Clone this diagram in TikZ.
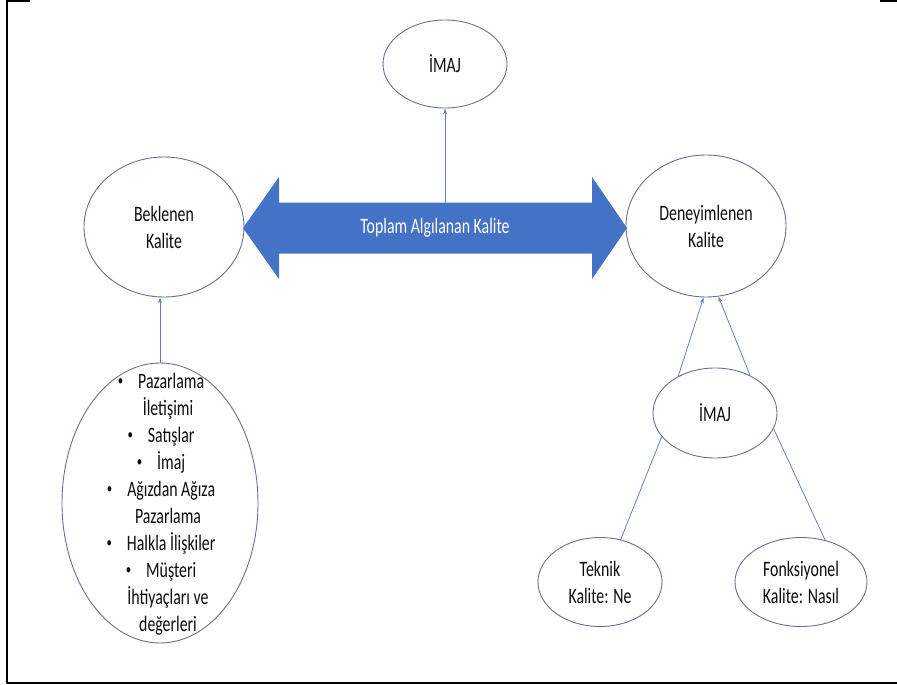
\documentclass[tikz,border=0pt]{standalone}
\usepackage{fontspec}
\setmainfont{Carlito}[FakeStretch=0.72]
\usetikzlibrary{shapes.geometric,arrows.meta}
\definecolor{rimblue}{RGB}{100,112,150}
\definecolor{linkblue}{RGB}{98,128,196}
\definecolor{arrowblue}{RGB}{68,114,196}
\definecolor{inkgray}{RGB}{12,12,12}
\newcommand{\madde}{\raisebox{2.5pt}{\fontsize{15}{27}\selectfont •}\hspace{15pt}}
\begin{document}
\begin{tikzpicture}[x=1pt,y=-1pt,line join=round,line cap=round,
	font=\fontsize{22}{27}\selectfont,>={Stealth[length=6pt,width=4pt]},
	bubble/.style={ellipse,draw=rimblue,line width=0.9pt,inner sep=0pt,align=center,text=inkgray},
	link/.style={draw=linkblue,line width=0.8pt}]
	\useasboundingbox (0,0) rectangle (897,685);
	% frame
	\draw[line width=2.5pt,line cap=butt] (7,1)--(30,1) (880,1)--(897,1) (7,0)--(7,683)--(897,683);
	% double arrow
	\path 
	(243,228) coordinate (L)
	(279,177) coordinate (L1)
	(279,202.5) coordinate (L2)
	(592,202.5) coordinate (R2)
	(592,177) coordinate (R1)
	(627,228) coordinate (R)
	(592,279) coordinate (R3)
	(592,253.5) coordinate (R4)
	(279,253.5) coordinate (L4)
	(279,279) coordinate (L3)
	(445,202.5) coordinate (shafttop)
	;
	\fill[arrowblue] (L)--(L1)--(L2)--(R2)--(R1)--(R)--(R3)--(R4)--(L4)--(L3)--cycle;
	\node[text=white] (toplam) at (435,228) {Toplam Algılanan Kalite};
	% ellipses
	\node[bubble,minimum width=124,minimum height=88] (imaj) at (445,64) {İMAJ};
	\node[bubble,minimum width=160,minimum height=140] (beklenen) at (164,227) {Beklenen\\Kalite};
	\node[bubble,minimum width=160,minimum height=142] (deney) at (706,226) {Deneyimlenen\\Kalite};
	\node[bubble,minimum width=196,minimum height=280] (liste) at (160,503) {};
	\node[align=center,text=inkgray,inner sep=0pt] (listetext) at (161,504) {%
		\madde Pazarlama\\ \hspace*{14pt}İletişimi\\ \madde Satışlar\\ \madde İmaj\\
		\madde Ağızdan Ağıza\\ \hspace*{14pt}Pazarlama\\ \madde Halkla İlişkiler\\
		\madde Müşteri\\ \hspace*{14pt}İhtiyaçları ve\\ \hspace*{14pt}değerleri};
	\node[bubble,minimum width=124,minimum height=90] (imajalt) at (715,413) {İMAJ};
	\node[bubble,minimum width=124,minimum height=89] (teknik) at (600,582) {Teknik\\Kalite: Ne};
	\node[bubble,minimum width=132,minimum height=89] (fonk) at (801,582) {Fonksiyonel\\Kalite: Nasıl};
	% connectors
	\draw[link,->] (shafttop) -- (imaj.south);
	\draw[link,->] (liste.north) -- (liste.north |- beklenen.south);
	\draw[link,->] (imajalt.135) -- (deney.268);
	\draw[link,->] (imajalt.47) -- (deney.280);
	\draw[link] (imajalt.204) -- (teknik.64);
	\draw[link] (imajalt.345) -- (fonk.60);
\end{tikzpicture}
\end{document}
